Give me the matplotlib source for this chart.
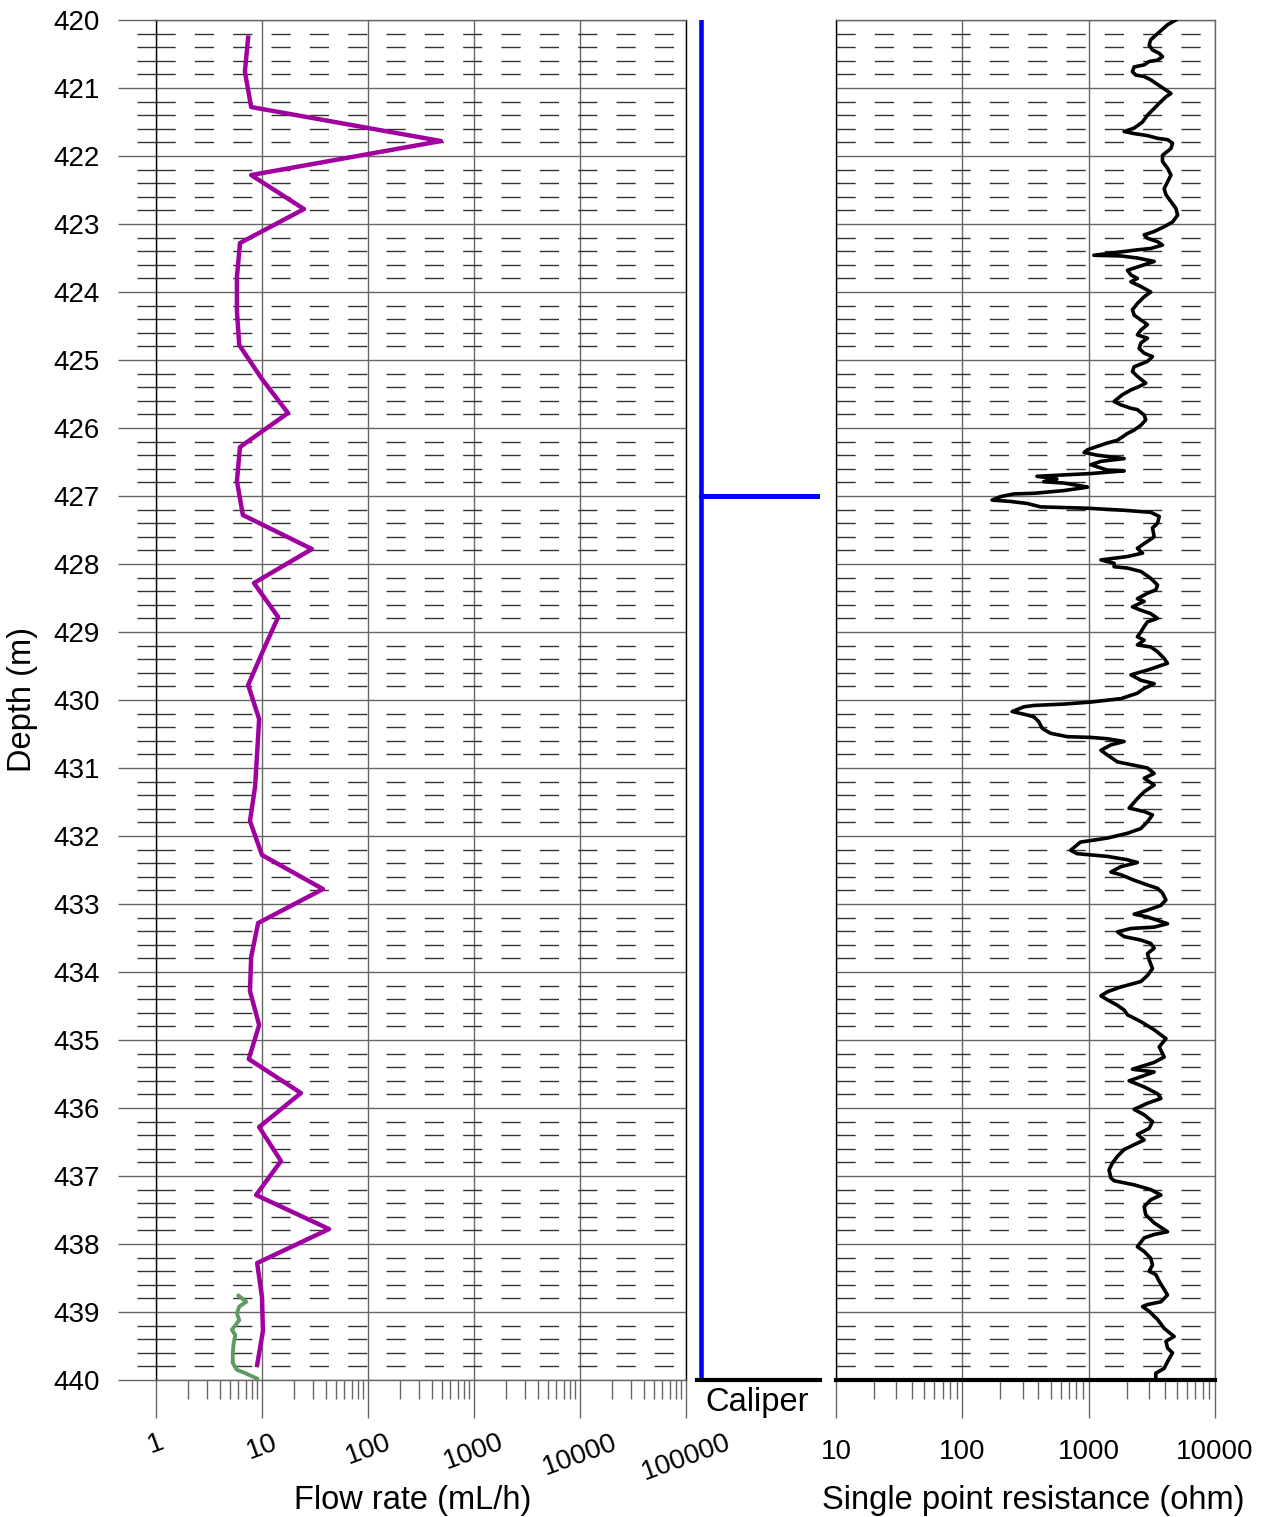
import numpy as np
import matplotlib
matplotlib.use('Agg')
from matplotlib import pyplot as plt
from matplotlib.ticker import LogLocator, NullFormatter, MultipleLocator

# flow rate log (purple) and the short green log near the bottom
flow_depth = [420.26, 420.76, 421.28, 421.78, 422.28, 422.78, 423.28, 423.78, 424.28, 424.78,
              425.28, 425.78, 426.28, 426.78, 427.28, 427.78, 428.28, 428.78, 429.28, 429.78,
              430.28, 430.78, 431.28, 431.78, 432.28, 432.78, 433.28, 433.78, 434.28, 434.78,
              435.28, 435.78, 436.28, 436.78, 437.28, 437.78, 438.28, 438.78, 439.28, 439.78]
flow_rate = [7.4, 6.9, 7.9, 488, 7.9, 24.9, 6.2, 5.8, 5.8, 6.1,
             10.0, 17.6, 6.2, 5.8, 6.6, 29.6, 8.4, 14.2, 10.2, 7.4,
             9.4, 9.0, 8.6, 7.7, 10.0, 37.6, 9.2, 7.9, 7.7, 9.4,
             7.5, 23.3, 9.4, 15.1, 8.8, 42.9, 9.0, 10.0, 10.2, 9.0]

flow2_depth = [438.76, 438.85, 438.92, 439.02, 439.12, 439.26, 439.34, 439.46, 439.61,
               439.75, 439.85, 439.91, 439.98]
flow2_rate = [6.0, 7.1, 6.1, 5.8, 6.1, 5.2, 5.6, 5.4, 5.3, 5.3, 5.8, 7.2, 9.0]

# caliper (relative units)
caliper_depth = [420, 427, 427, 427, 440]
caliper_value = [0, 0, 1, 0, 0]

# single point resistance (ohm)
spr_depth = [
    420.00, 420.07, 420.20, 420.29, 420.37, 420.44, 420.49, 420.54, 420.59, 420.61,
    420.66, 420.69, 420.76, 420.81, 420.83, 420.88, 420.93, 420.98, 421.03, 421.08,
    421.13, 421.20, 421.30, 421.40, 421.50, 421.59, 421.64, 421.67, 421.70, 421.74,
    421.76, 421.81, 421.89, 421.99, 422.08, 422.18, 422.28, 422.38, 422.48, 422.57,
    422.67, 422.77, 422.87, 422.97, 423.04, 423.11, 423.16, 423.21, 423.26, 423.31,
    423.36, 423.38, 423.41, 423.46, 423.47, 423.50, 423.55, 423.60, 423.68, 423.75,
    423.80, 423.85, 423.92, 424.00,
    424.07, 424.17, 424.26, 424.34, 424.41, 424.48, 424.56, 424.63, 424.68, 424.75,
    424.83, 424.90, 424.95, 425.02, 425.10, 425.17, 425.24, 425.34, 425.39, 425.44,
    425.51, 425.61, 425.66, 425.71, 425.73, 425.81, 425.88, 425.96, 426.03, 426.08,
    426.18, 426.22, 426.27, 426.32, 426.36, 426.40, 426.45, 426.49, 426.54, 426.62,
    426.63, 426.67, 426.69, 426.71, 426.75, 426.79, 426.81, 426.85, 426.87, 426.92,
    426.96, 426.97, 427.01, 427.06, 427.08, 427.11, 427.16, 427.18, 427.21, 427.24,
    427.30, 427.40, 427.47, 427.60, 427.70, 427.77, 427.84, 427.89, 427.94, 427.99,
    428.04, 428.06, 428.11, 428.21, 428.31, 428.38, 428.43, 428.51, 428.55, 428.63,
    428.68, 428.73, 428.80, 428.85, 428.92, 429.00, 429.07, 429.12, 429.19, 429.22,
    429.29, 429.39, 429.46, 429.51, 429.56, 429.63, 429.71, 429.76, 429.83, 429.90,
    429.98, 430.03, 430.06, 430.08, 430.10, 430.17, 430.22, 430.25, 430.32, 430.42,
    430.49, 430.54, 430.55, 430.57, 430.61, 430.66, 430.74, 430.81, 430.91, 430.96,
    431.00, 431.08, 431.15, 431.25, 431.35, 431.45, 431.59, 431.64, 431.69, 431.79,
    431.89, 431.96, 432.03, 432.09,
    432.21, 432.26, 432.30, 432.35, 432.39, 432.45, 432.53, 432.57, 432.65, 432.72,
    432.77, 432.84, 432.94, 433.02, 433.09, 433.15, 433.19, 433.29, 433.34, 433.36,
    433.41, 433.48, 433.53, 433.58, 433.65, 433.73, 433.82, 433.95, 434.05, 434.14,
    434.22, 434.29, 434.35, 434.41, 434.49, 434.56, 434.63, 434.73, 434.85, 434.98,
    435.10, 435.25, 435.33, 435.43, 435.47, 435.54, 435.60, 435.69, 435.79, 435.86,
    435.93, 436.02,
    436.10, 436.20, 436.30, 436.39, 436.47, 436.54, 436.61, 436.71, 436.81, 436.91,
    437.03, 437.07, 437.13, 437.20, 437.28, 437.35, 437.45, 437.57, 437.69, 437.82,
    437.86, 437.91, 438.04, 438.11, 438.21, 438.31, 438.40, 438.45, 438.55, 438.75,
    438.85, 438.89, 438.92, 438.99, 439.11, 439.24, 439.36, 439.43, 439.53, 439.60,
    439.73, 439.83, 439.90, 439.97]
spr_ohm = [
    4900, 4210, 3510, 3100, 3010, 3200, 3620, 3840, 3510, 3010,
    2750, 2290, 2220, 2360, 2750, 3100, 3400, 3730, 4090, 4480,
    4090, 3730, 3300, 2920, 2670, 2290, 1910, 2290, 2920, 3510,
    4210, 4610, 4480, 3840, 3840, 4210, 4480, 4210, 3960, 4090,
    4480, 4900, 5060, 4610, 3960, 3300, 2750, 2920, 3510, 3840,
    3100, 2430, 1800, 1100, 1800, 2430, 3300, 2750, 2030, 2160,
    2430, 2160, 2590, 3100,
    2750, 2430, 2220, 2290, 2590, 2920, 2590, 2430, 2920, 2590,
    2510, 2750, 3200, 2920, 2290, 2220, 2430, 2830, 2510, 2160,
    1850, 1590, 1800, 2160, 2430, 2750, 2830, 2590, 2290, 2030,
    1690, 1410, 1170, 980, 920, 1170, 1910, 1250, 1040, 1410,
    1910, 1040, 640, 390, 560, 440, 640, 860, 980, 640,
    370, 255, 200, 172, 240, 326, 416, 980, 1910, 3100,
    3620, 3510, 3200, 3300, 2750, 2430, 2670, 2030, 1250, 1590,
    1590, 2030, 2590, 3100, 3510, 3400, 2920, 2430, 2750, 2220,
    2590, 3100, 3510, 2920, 2750, 2590, 2430, 2750, 2430, 3100,
    3510, 3960, 4210, 3510, 2920, 2160, 2590, 3300, 2750, 2430,
    1800, 1040, 640, 370, 307, 248, 326, 370, 403, 430,
    500, 680, 1040, 1410, 1910, 1500, 1250, 1410, 1690, 2290,
    2920, 3300, 2750, 3300, 2750, 2430, 2090, 2750, 3200, 2920,
    2590, 2030, 1410, 860,
    720, 810, 1410, 2030, 2430, 1800, 1500, 1800, 2290, 2920,
    3510, 3840, 4090, 3730, 2920, 2290, 2920, 4210, 3300, 2160,
    1690, 1910, 2590, 3100, 3300, 2920, 3010, 3200, 2920, 2590,
    1800, 1410, 1250, 1410, 1690, 1910, 2030, 2590, 3300, 4090,
    3620, 3960, 3300, 2220, 3300, 2590, 2090, 2750, 3510, 3730,
    2920, 2290,
    2750, 3200, 3010, 2430, 2750, 2290, 1910, 1690, 1540, 1450,
    1500, 1590, 2290, 3100, 3730, 3100, 2750, 2830, 3300, 4210,
    3300, 2750, 2430, 2750, 3100, 3200, 3010, 3400, 3620, 4210,
    3730, 2920, 2670, 3010, 3510, 3960, 4750, 4090, 4210, 4610,
    4210, 3960, 3400, 3400]

flow_ticks = [1, 10, 100, 1000, 10000, 100000]
spr_ticks = [10, 100, 1000, 10000]

plt.rcParams['font.family'] = ['Liberation Sans', 'DejaVu Sans']
plt.rcParams['lines.scale_dashes'] = False

GRID = '#666666'
DASH = '#333333'
MINOR_STYLE = (0, (13.8, 13.8))
W, H = 1263.0, 1517.0
TICK_FS = 20
LABEL_FS = 23.5


def depth_grid(ax):
    ax.set_ylim(440, 420)
    ax.yaxis.set_major_locator(MultipleLocator(1))
    ax.yaxis.set_minor_locator(MultipleLocator(0.2))
    ax.grid(True, which='major', color=GRID, lw=1)
    ax.grid(True, which='minor', axis='y', color=DASH, lw=1, linestyle=MINOR_STYLE)
    ax.grid(False, which='minor', axis='x')
    for s in ax.spines.values():
        s.set_color(GRID)
        s.set_linewidth(1)


fig = plt.figure(figsize=(W / 100, H / 100), dpi=100)
bottom = 1 - 1380 / H
height = 1360 / H
ax1 = fig.add_axes([156 / W, bottom, 530 / W, height])
ax2 = fig.add_axes([697 / W, bottom, 123 / W, height])
ax3 = fig.add_axes([836 / W, bottom, 379 / W, height])

# --- flow rate panel
ax1.set_xscale('log')
ax1.set_xlim(1, 100000)
depth_grid(ax1)
ax1.set_xticks(flow_ticks, labels=[str(t) for t in flow_ticks])
ax1.xaxis.set_minor_locator(LogLocator(base=10, subs=np.arange(2, 10)))
ax1.xaxis.set_minor_formatter(NullFormatter())
ax1.tick_params(axis='x', which='major', length=27.5, width=1, color=GRID,
                labelsize=TICK_FS, pad=8, labelrotation=20)
ax1.tick_params(axis='x', which='minor', length=13.7, width=1, color=GRID)
ax1.tick_params(axis='y', which='major', length=27.5, width=1, color=GRID,
                labelsize=TICK_FS, pad=13)
ax1.tick_params(axis='y', which='minor', length=13.7, width=1, color=DASH)
ax1.spines['left'].set_color('black')
ax1.spines['right'].set_color('black')
ax1.plot(flow_rate, flow_depth, color='#A000A0', lw=3.2, zorder=3)
ax1.plot(flow2_rate, flow2_depth, color='#5F9A5F', lw=2.8, zorder=3)
ax1.set_xlabel('Flow rate (mL/h)', fontsize=LABEL_FS)
ax1.xaxis.label.set_va('center')
ax1.xaxis.set_label_coords((413 - 156) / 530, (1380 - 1500) / 1360)
ax1.set_ylabel('Depth (m)', fontsize=LABEL_FS)
ax1.yaxis.label.set_va('center')
ax1.yaxis.set_label_coords((22 - 156) / 530, 0.5)

# --- caliper panel
ax2.set_xlim(-0.034, 1.017)
ax2.set_ylim(440, 420)
for side in ['top', 'left', 'right']:
    ax2.spines[side].set_visible(False)
ax2.spines['bottom'].set_linewidth(3)
ax2.spines['bottom'].set_color('black')
ax2.set_xticks([])
ax2.set_yticks([])
ax2.plot(caliper_value, caliper_depth, color='#0000FF', lw=3.3,
         solid_capstyle='round', zorder=1)
ax2.set_xlabel('Caliper', fontsize=LABEL_FS)
ax2.xaxis.label.set_va('center')
ax2.xaxis.set_label_coords((757 - 697) / 123, (1380 - 1402) / 1360)

# --- single point resistance panel
ax3.set_xscale('log')
ax3.set_xlim(10, 10000)
depth_grid(ax3)
ax3.set_xticks(spr_ticks, labels=[str(t) for t in spr_ticks])
ax3.xaxis.set_minor_locator(LogLocator(base=10, subs=np.arange(2, 10)))
ax3.xaxis.set_minor_formatter(NullFormatter())
ax3.tick_params(axis='x', which='major', length=27.5, width=1, color=GRID,
                labelsize=TICK_FS, pad=15)
ax3.tick_params(axis='x', which='minor', length=13.7, width=1, color=GRID)
ax3.tick_params(axis='y', which='both', length=0, labelleft=False)
ax3.spines['left'].set_color('black')
ax3.spines['bottom'].set_color('black')
ax3.spines['bottom'].set_linewidth(3)
ax3.plot(spr_ohm, spr_depth, color='black', lw=2.6, zorder=3)
ax3.set_xlabel('Single point resistance (ohm)', fontsize=LABEL_FS)
ax3.xaxis.label.set_va('center')
ax3.xaxis.set_label_coords((1033 - 836) / 379, (1380 - 1500) / 1360)

fig.savefig('out.png', dpi=100)
